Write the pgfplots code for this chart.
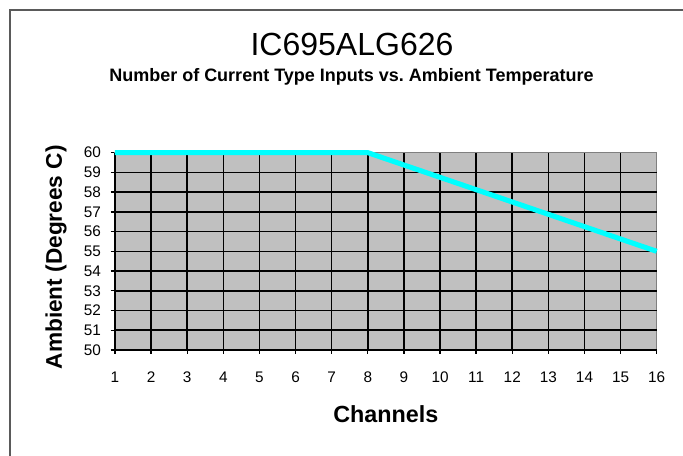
\documentclass[border=0pt]{standalone}
\usepackage{pgfplots}
\pgfplotsset{compat=1.18}
\usepackage{fontspec}
\setmainfont{Liberation Sans}
\definecolor{plotbg}{RGB}{192,192,192}
\definecolor{framegray}{RGB}{90,90,90}
\definecolor{linecyan}{RGB}{0,255,255}
\begin{document}
\begin{tikzpicture}
\path[use as bounding box] (0,0) rectangle (512.25pt,342pt);
\begin{scope}
\clip (0,0) rectangle (512.25pt,342pt);
\draw[framegray, line width=1.5pt] (7.5pt,-10pt) -- (7.5pt,334.5pt) -- (530pt,334.5pt);
\end{scope}
\node[font=\fontsize{24}{28}\selectfont] at (264pt,309pt) {IC695ALG626};
\node[font=\bfseries\fontsize{13.5}{15}\selectfont] at (263.6pt,284.25pt) {Number of Current Type Inputs vs.\ Ambient Temperature};
\begin{axis}[
  at={(86.25pt,79.5pt)}, anchor=south west,
  scale only axis, width=406.3pt, height=148pt,
  xmin=1, xmax=16, ymin=50, ymax=60,
  xtick={1,...,16}, ytick={50,...,60},
  axis background/.style={fill=plotbg},
  axis line style={draw=gray, line width=1pt},
  tick align=outside, xtick pos=bottom, ytick pos=left,
  major tick length=3pt,
  tick style={black, line width=1pt},
  extra x ticks={1,...,15}, extra y ticks={50,...,59},
  extra x tick labels={}, extra y tick labels={},
  extra tick style={grid=major, major grid style={black, line width=1.2pt}, major tick length=3pt},
  tick label style={font=\fontsize{11.5}{12}\selectfont},
  xticklabel style={yshift=-9.5pt, text height=8.5pt, text depth=0pt},
  yticklabel style={xshift=-4pt},
  /pgf/number format/assume math mode=true,
  xlabel={Channels},
  ylabel={Ambient (Degrees C)},
  xlabel style={font=\bfseries\fontsize{17.5}{20}\selectfont, at={(axis description cs:0.5,-0.324)}, anchor=center},
  ylabel style={font=\bfseries\fontsize{17}{20}\selectfont, at={(axis description cs:-0.109,0.47)}, anchor=center, rotate=0},
  clip=false,
]
\addplot[linecyan, line width=3.8pt] coordinates {
(1,60) (2,60) (3,60) (4,60) (5,60) (6,60) (7,60) (8,60)
(9,59.375) (10,58.75) (11,58.125) (12,57.5) (13,56.875) (14,56.25) (15,55.625) (16,55)
};
\end{axis}
\end{tikzpicture}
\end{document}
